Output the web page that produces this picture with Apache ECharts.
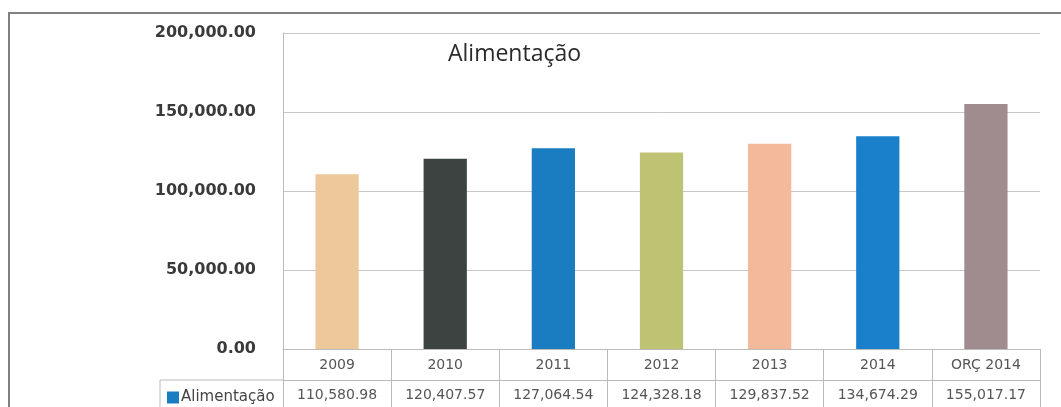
<!DOCTYPE html>
<html>
<head>
<meta charset="utf-8">
<script src="https://cdn.jsdelivr.net/npm/echarts@6/dist/echarts.min.js"></script>
<style>html,body{margin:0;padding:0;background:#fff}#c{width:1061px;height:407px}</style>
</head>
<body>
<div id="c"></div>
<script>
const categories = ['2009', '2010', '2011', '2012', '2013', '2014', 'ORÇ 2014'];
const values = [110580.98, 120407.57, 127064.54, 124328.18, 129837.52, 134674.29, 155017.17];
const barColors = ['#EDC89A', '#3C4340', '#1A7DC2', '#BEC273', '#F2B99A', '#1A80CC', '#A08C8F'];
const seriesName = 'Alimentação';
const yTicks = [0, 50000, 100000, 150000, 200000];

const fmt = v => v.toLocaleString('en-US', {minimumFractionDigits: 2, maximumFractionDigits: 2});
const chart = echarts.init(document.getElementById('c'), null, {renderer: 'canvas'});
const font = '"Open Sans", "DejaVu Sans", sans-serif';
const tfont = '"DejaVu Sans", sans-serif';

chart.setOption({
  animation: false,
  backgroundColor: '#fff',
  title: {
    text: seriesName,
    left: 443, top: 38,
    textStyle: {fontFamily: font, fontSize: 23, fontWeight: 'normal', color: '#2a2a2a'}
  },
  legend: {
    left: 162, top: 385,
    icon: 'rect', itemWidth: 12, itemHeight: 12, itemGap: 2,
    textStyle: {fontFamily: tfont, fontSize: 15, color: '#444', padding: [0, 0, 0, -3]},
    data: [seriesName]
  },
  grid: {left: 283, right: 21, top: 33, bottom: 58, containLabel: false},
  xAxis: [
    {
      type: 'category', data: categories, position: 'bottom',
      axisLine: {show: true, lineStyle: {color: '#bbb'}},
      axisTick: {show: true, length: 31, lineStyle: {color: '#bbb'}},
      axisLabel: {margin: 9, fontFamily: tfont, fontSize: 14, color: '#555'}
    },
    {
      type: 'category', data: values.map(fmt), position: 'bottom', offset: 31,
      axisLine: {show: true, lineStyle: {color: '#bbb'}},
      axisTick: {show: true, length: 31, lineStyle: {color: '#bbb'}},
      axisLabel: {margin: 8, fontFamily: tfont, fontSize: 14, color: '#555'}
    }
  ],
  yAxis: {
    type: 'value', min: yTicks[0], max: yTicks[yTicks.length - 1], interval: yTicks[1] - yTicks[0],
    axisLine: {show: true, lineStyle: {color: '#bbb'}},
    axisTick: {show: false},
    splitLine: {lineStyle: {color: '#c8c8c8'}},
    axisLabel: {margin: 27, fontFamily: tfont, fontSize: 16, fontWeight: 'bold', color: '#3a3a3a', padding: [3, 0, 0, 0], formatter: v => fmt(v)}
  },
  series: [{
    name: seriesName, type: 'bar', barWidth: '40%',
    itemStyle: {color: '#1A7DC2'},
    data: values.map((v, i) => ({value: v, itemStyle: {color: barColors[i]}}))
  }],
  graphic: [
    {type: 'polyline', shape: {points: [[9, 410], [9, 13], [1061, 13]]}, style: {stroke: '#808080', lineWidth: 2, fill: null}},
    {type: 'polyline', shape: {points: [[283, 380], [160, 380], [160, 410]]}, style: {stroke: '#bbb', lineWidth: 1, fill: null}}
  ]
});
</script>
</body>
</html>
